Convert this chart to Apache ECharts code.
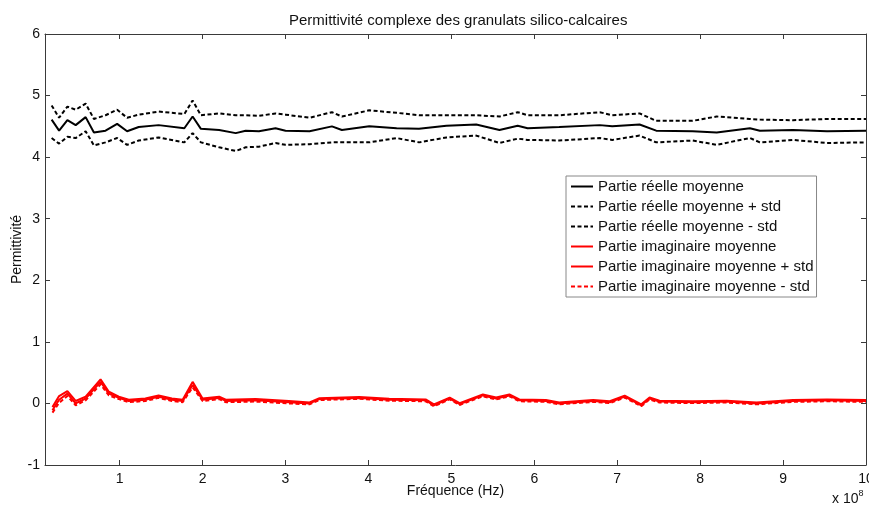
<!DOCTYPE html>
<html>
<head>
<meta charset="utf-8">
<script src="https://cdn.jsdelivr.net/npm/echarts@6/dist/echarts.min.js"></script>
<style>
html,body{margin:0;padding:0;background:#fff;}
#chart{width:869px;height:506px;}
</style>
</head>
<body>
<div id="chart"></div>
<script>
// Frequencies in units of 1e8 Hz
var freqReal = [0.18,0.27,0.37,0.47,0.59,0.69,0.83,0.97,1.09,1.23,1.47,1.78,1.88,1.98,2.20,2.40,2.52,2.68,2.88,3.00,3.29,3.56,3.68,4.01,4.34,4.61,4.94,5.30,5.58,5.80,5.92,6.30,6.79,6.94,7.27,7.47,7.91,8.20,8.60,8.72,9.12,9.53,10.0];
var realMean = [4.61,4.43,4.60,4.52,4.65,4.40,4.43,4.54,4.42,4.49,4.52,4.47,4.66,4.46,4.44,4.39,4.43,4.42,4.47,4.43,4.42,4.50,4.44,4.50,4.47,4.46,4.51,4.53,4.44,4.51,4.47,4.49,4.52,4.50,4.53,4.43,4.42,4.40,4.47,4.43,4.44,4.42,4.43];
var realUpper = [4.84,4.64,4.82,4.77,4.87,4.62,4.68,4.77,4.64,4.69,4.74,4.70,4.92,4.68,4.71,4.68,4.68,4.67,4.71,4.69,4.64,4.73,4.66,4.76,4.72,4.68,4.68,4.68,4.66,4.73,4.68,4.68,4.73,4.68,4.71,4.59,4.59,4.66,4.62,4.61,4.60,4.62,4.62];
var realLower = [4.31,4.22,4.33,4.31,4.42,4.19,4.24,4.31,4.20,4.27,4.32,4.24,4.39,4.24,4.16,4.10,4.16,4.17,4.23,4.20,4.21,4.24,4.24,4.24,4.31,4.24,4.32,4.35,4.23,4.30,4.28,4.27,4.31,4.28,4.35,4.24,4.27,4.20,4.31,4.24,4.28,4.23,4.24];

var freqImag = [0.19,0.27,0.37,0.47,0.59,0.77,0.87,0.99,1.11,1.31,1.47,1.63,1.76,1.88,2.00,2.20,2.28,2.64,3.04,3.29,3.41,3.89,4.25,4.69,4.79,4.98,5.10,5.38,5.54,5.70,5.82,6.14,6.30,6.71,6.91,7.09,7.29,7.39,7.51,7.91,8.32,8.68,9.12,9.53,10.0];
var imagMean = [-0.11,0.06,0.16,0.00,0.08,0.35,0.16,0.09,0.04,0.06,0.11,0.06,0.04,0.30,0.06,0.09,0.04,0.05,0.02,0.00,0.07,0.09,0.06,0.05,-0.03,0.08,-0.01,0.13,0.08,0.13,0.05,0.04,0.00,0.04,0.02,0.11,-0.03,0.08,0.03,0.02,0.03,0.00,0.04,0.05,0.04];
var imagUpper = [-0.06,0.12,0.20,0.04,0.11,0.39,0.19,0.11,0.06,0.08,0.13,0.08,0.06,0.35,0.08,0.11,0.06,0.07,0.04,0.015,0.085,0.105,0.075,0.065,-0.015,0.095,0.005,0.145,0.095,0.145,0.065,0.055,0.015,0.055,0.035,0.125,-0.015,0.095,0.045,0.035,0.045,0.015,0.055,0.065,0.055];
var imagLower = [-0.15,0.01,0.12,-0.03,0.05,0.31,0.13,0.07,0.02,0.04,0.09,0.04,0.02,0.26,0.04,0.07,0.02,0.03,0.00,-0.015,0.055,0.075,0.045,0.035,-0.045,0.065,-0.025,0.115,0.065,0.115,0.035,0.025,-0.015,0.025,0.005,0.095,-0.045,0.065,0.015,0.005,0.015,-0.015,0.025,0.035,0.025];

var xTicks = [1,2,3,4,5,6,7,8,9,10];
var yTicks = [-1,0,1,2,3,4,5,6];
var seriesNames = [
  'Partie réelle moyenne',
  'Partie réelle moyenne + std',
  'Partie réelle moyenne - std',
  'Partie imaginaire moyenne',
  'Partie imaginaire moyenne + std',
  'Partie imaginaire moyenne - std'
];

function pairs(xs, ys){ return xs.map(function(x,i){ return [x, ys[i]]; }); }

var FONT = "'Liberation Sans', Arial, Helvetica, sans-serif";
var AX = '#3a3a3a';

var chart = echarts.init(document.getElementById('chart'), null, {renderer:'canvas'});

function mkLine(name, data, color, type){
  return {
    name: name, type: 'line', data: data, xAxisIndex: 0, yAxisIndex: 0,
    symbol: 'none', animation: false,
    lineStyle: {color: color, width: 2, type: type},
    itemStyle: {color: color}
  };
}

var DASH = [4, 2.5];

chart.setOption({
  animation: false,
  backgroundColor: '#fff',
  textStyle: {fontFamily: FONT},
  title: {
    text: 'Permittivité complexe des granulats silico-calcaires',
    left: 284, top: 8,
    textStyle: {fontSize: 15, fontWeight: 'normal', color: '#111', fontFamily: FONT}
  },
  grid: {left: 45, right: 3, top: 34, bottom: 41, containLabel: false, outerBoundsMode: 'none'},
  legend: {
    orient: 'vertical', left: 566, top: 176,
    data: seriesNames,
    itemWidth: 22, itemHeight: 14, itemGap: 5,
    padding: [3, 3, 3, 4],
    backgroundColor: '#fff', borderColor: '#888', borderWidth: 1,
    itemStyle: {opacity: 0},
    textStyle: {fontSize: 15, color: '#111', fontFamily: FONT},
    selectedMode: false
  },
  xAxis: [{
    type: 'value', min: 0.1, max: 10, position: 'bottom',
    name: 'Fréquence (Hz)', nameLocation: 'middle', nameGap: 19, nameMoveOverlap: false,
    nameTextStyle: {fontSize: 14, color: '#111', fontFamily: FONT},
    axisLine: {show: true, onZero: false, lineStyle: {color: AX, width: 1}},
    axisTick: {show: true, inside: true, length: 5, customValues: xTicks, lineStyle: {color: AX}},
    axisLabel: {show: true, customValues: xTicks, margin: 7, fontSize: 14, color: '#111', fontFamily: FONT, showMaxLabel: true},
    splitLine: {show: false}
  }, {
    type: 'value', min: 0.1, max: 10, position: 'top',
    axisLine: {show: true, onZero: false, lineStyle: {color: AX, width: 1}},
    axisTick: {show: true, inside: true, length: 5, customValues: xTicks, lineStyle: {color: AX}},
    axisLabel: {show: false},
    splitLine: {show: false}
  }],
  yAxis: [{
    type: 'value', min: -1, max: 6, interval: 1, position: 'left',
    name: 'Permittivité', nameLocation: 'middle', nameGap: 21, nameRotate: 90, nameMoveOverlap: false,
    nameTextStyle: {fontSize: 14, color: '#111', fontFamily: FONT},
    axisLine: {show: true, onZero: false, lineStyle: {color: AX, width: 1}},
    axisTick: {show: true, inside: true, length: 5, lineStyle: {color: AX}},
    axisLabel: {show: true, margin: 5, fontSize: 14, color: '#111', fontFamily: FONT,
      customValues: yTicks},
    splitLine: {show: false}
  }, {
    type: 'value', min: -1, max: 6, interval: 1, position: 'right',
    axisLine: {show: true, onZero: false, lineStyle: {color: AX, width: 1}},
    axisTick: {show: true, inside: true, length: 5, lineStyle: {color: AX}},
    axisLabel: {show: false},
    splitLine: {show: false}
  }],
  graphic: [{
    type: 'text', left: 832, top: 489,
    style: {
      text: '{a|x 10}{b|8}',
      rich: {
        a: {fontSize: 14, fill: '#111', fontFamily: FONT, verticalAlign: 'bottom'},
        b: {fontSize: 9, fill: '#111', fontFamily: FONT, verticalAlign: 'top', padding: [0,0,8,0]}
      }
    }
  }],
  series: [
    mkLine(seriesNames[0], pairs(freqReal, realMean), '#000', 'solid'),
    mkLine(seriesNames[1], pairs(freqReal, realUpper), '#000', DASH),
    mkLine(seriesNames[2], pairs(freqReal, realLower), '#000', DASH),
    mkLine(seriesNames[3], pairs(freqImag, imagMean), '#ff0000', 'solid'),
    mkLine(seriesNames[4], pairs(freqImag, imagUpper), '#ff0000', 'solid'),
    mkLine(seriesNames[5], pairs(freqImag, imagLower), '#ff0000', DASH)
  ]
});
</script>
</body>
</html>
